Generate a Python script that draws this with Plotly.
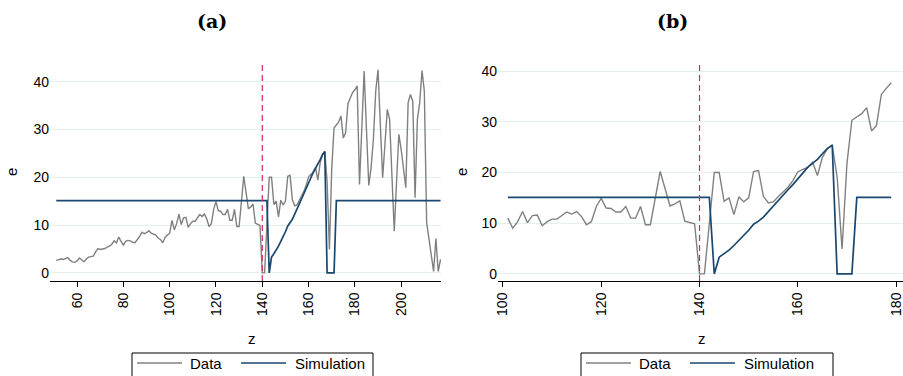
import plotly.graph_objects as go

# ---------------- data ----------------
z_start = 51
data_e = [
    2.6, 2.8, 2.9, 2.8, 3.0, 3.2, 2.6, 2.3, 2.2, 2.5,        # 51-60
    3.1, 2.7, 2.3, 2.9, 3.3, 3.4, 3.5, 4.4, 5.1, 4.9,        # 61-70
    5.0, 5.1, 5.4, 5.6, 6.0, 6.7, 6.3, 7.5, 6.6, 5.8,        # 71-80
    6.6, 6.8, 6.7, 6.4, 6.3, 6.9, 7.6, 8.5, 8.2, 8.4,        # 81-90
    8.8, 8.3, 8.1, 7.9, 7.3, 7.0, 6.3, 7.4, 7.9, 8.3,        # 91-100
    11.0, 9.0, 10.3, 12.3, 10.1, 11.5, 11.6, 9.5, 10.3, 10.8,  # 101-110
    10.8, 11.5, 12.2, 11.8, 12.3, 11.3, 9.7, 10.3, 13.3, 14.9,  # 111-120
    13.0, 12.9, 12.2, 12.2, 13.3, 11.0, 11.0, 13.3, 9.7, 9.7,   # 121-130
    15.0, 20.2, 16.8, 13.4, 13.8, 14.4, 10.4, 10.2, 9.9, 0.0,   # 131-140
    0.0, 10.0, 20.0, 20.0, 14.3, 15.0, 11.7, 15.2, 14.2, 15.0,  # 141-150
    20.2, 20.4, 15.3, 14.0, 14.2, 15.2, 16.1, 17.1, 18.4, 20.1, # 151-160
    20.6, 21.0, 22.0, 19.4, 23.0, 24.7, 25.4, 19.1, 4.9, 21.8,  # 161-170
    30.3, 31.0, 31.6, 32.8, 28.2, 29.3, 35.4, 36.6, 37.7, 38.3, # 171-180
    39.1, 18.5, 30.0, 42.2, 30.0, 18.3, 22.0, 28.0, 38.0, 42.5, # 181-190
    31.0, 19.9, 27.0, 34.2, 32.1, 20.0, 8.7, 19.0, 29.0, 25.8,  # 191-200
    21.8, 17.8, 35.6, 37.3, 35.9, 15.7, 32.1, 35.6, 42.3, 38.0, # 201-210
    10.5, 7.0, 3.5, 0.3, 7.2, 0.3, 2.8,                         # 211-217
]
sim_e = [
    15.1, 15.1, 15.1, 15.1, 15.1, 15.1, 15.1, 15.1, 15.1, 15.1,  # 51-60
    15.1, 15.1, 15.1, 15.1, 15.1, 15.1, 15.1, 15.1, 15.1, 15.1,  # 61-70
    15.1, 15.1, 15.1, 15.1, 15.1, 15.1, 15.1, 15.1, 15.1, 15.1,  # 71-80
    15.1, 15.1, 15.1, 15.1, 15.1, 15.1, 15.1, 15.1, 15.1, 15.1,  # 81-90
    15.1, 15.1, 15.1, 15.1, 15.1, 15.1, 15.1, 15.1, 15.1, 15.1,  # 91-100
    15.1, 15.1, 15.1, 15.1, 15.1, 15.1, 15.1, 15.1, 15.1, 15.1,  # 101-110
    15.1, 15.1, 15.1, 15.1, 15.1, 15.1, 15.1, 15.1, 15.1, 15.1,  # 111-120
    15.1, 15.1, 15.1, 15.1, 15.1, 15.1, 15.1, 15.1, 15.1, 15.1,  # 121-130
    15.1, 15.1, 15.1, 15.1, 15.1, 15.1, 15.1, 15.1, 15.1, 15.1,  # 131-140
    15.1, 15.1, 0.0, 3.3, 4.0, 4.7, 5.6, 6.6, 7.5, 8.6,          # 141-150
    9.8, 10.4, 11.2, 12.3, 13.5, 14.5, 15.5, 16.6, 17.6, 18.7,   # 151-160
    19.9, 21.0, 21.8, 22.6, 23.7, 24.7, 25.4, 0.0, 0.0, 0.0,     # 161-170
    0.0, 15.1, 15.1, 15.1, 15.1, 15.1, 15.1, 15.1, 15.1, 15.1,   # 171-180
    15.1, 15.1, 15.1, 15.1, 15.1, 15.1, 15.1, 15.1, 15.1, 15.1,  # 181-190
    15.1, 15.1, 15.1, 15.1, 15.1, 15.1, 15.1, 15.1, 15.1, 15.1,  # 191-200
    15.1, 15.1, 15.1, 15.1, 15.1, 15.1, 15.1, 15.1, 15.1, 15.1,  # 201-210
    15.1, 15.1, 15.1, 15.1, 15.1, 15.1, 15.1,                    # 211-217
]
z_all = list(range(z_start, z_start + len(data_e)))

# panel (b) window
zb_min, zb_max = 101, 179
idx_b = [i for i, z in enumerate(z_all) if zb_min <= z <= zb_max]
z_b = [z_all[i] for i in idx_b]
data_b = [data_e[i] for i in idx_b]
sim_b = [sim_e[i] for i in idx_b]

cutoff = 140
ticks_a = [60, 80, 100, 120, 140, 160, 180, 200]
ticks_b = [100, 120, 140, 160, 180]
ticks_y = [0, 10, 20, 30, 40]
series_names = ["Data", "Simulation"]

# ---------------- style ----------------
W, H = 903, 376
GRAY = "#808080"
NAVY = "#1a476f"
RED = "#d7265b"
GRID = "#e6eef0"
FONT = "Liberation Sans, Arial, sans-serif"
COLORS = [GRAY, NAVY]
WIDTHS = [1.4, 1.7]


def px(x):
    return x / W


def py(y):
    return 1 - y / H


fig = go.Figure()
for name, col, w, ya in zip(series_names, COLORS, WIDTHS, [data_e, sim_e]):
    fig.add_trace(go.Scatter(x=z_all, y=ya, mode="lines", name=name,
                             line=dict(color=col, width=w), xaxis="x", yaxis="y",
                             showlegend=False))
for name, col, w, yb in zip(series_names, COLORS, WIDTHS, [data_b, sim_b]):
    fig.add_trace(go.Scatter(x=z_b, y=yb, mode="lines", name=name,
                             line=dict(color=col, width=w), xaxis="x2", yaxis="y2",
                             showlegend=False))

xcommon = dict(showline=True, linecolor="black", linewidth=1, ticks="outside",
               ticklen=5, tickcolor="black", tickwidth=1, tickangle=-90,
               showgrid=False, zeroline=False, ticklabeloverflow="allow",
               tickfont=dict(family=FONT, size=14, color="black"))
ycommon = dict(showline=False, ticks="", showgrid=True, gridcolor=GRID,
               gridwidth=1, zeroline=False, tickvals=ticks_y,
               tickfont=dict(family=FONT, size=14, color="black"))

ydom = [py(281), py(63)]
fig.update_layout(
    width=W, height=H,
    margin=dict(l=0, r=0, t=0, b=0, autoexpand=False),
    paper_bgcolor="white", plot_bgcolor="white",
    font=dict(family=FONT, size=14, color="black"),
    xaxis=dict(domain=[px(50), px(441)], range=[48.3, 217.2], tickvals=ticks_a,
               anchor="y", **xcommon),
    yaxis=dict(domain=ydom, range=[-1.7, 43.9], anchor="x", **ycommon),
    xaxis2=dict(domain=[px(498), 1.0], range=[99.0, 181.4], tickvals=ticks_b,
                anchor="y2", **xcommon),
    yaxis2=dict(domain=ydom, range=[-1.4, 41.6], anchor="x2", **ycommon),
    showlegend=False,
)

# vertical cutoff lines
for xr, yr in (("x", "y domain"), ("x2", "y2 domain")):
    fig.add_shape(type="line", xref=xr, yref=yr, x0=cutoff, x1=cutoff, y0=0, y1=1,
                  line=dict(color=RED, width=1.2, dash="6px,4px"))

# legends (box partly cut by the bottom edge, as in the reference)
legend_boxes = [
    dict(left=132, right=373, samples=[(137, 182), (241, 286)], texts=[188, 293]),
    dict(left=581, right=833, samples=[(586, 631), (690, 735)], texts=[637, 742]),
]
LEG_Y = 363
for lb in legend_boxes:
    fig.add_shape(type="rect", xref="paper", yref="paper",
                  x0=px(lb["left"]), x1=px(lb["right"]), y0=py(353), y1=py(395),
                  line=dict(color="black", width=1), fillcolor="white", layer="above")
    for (s0, s1), tx, name, col, w in zip(lb["samples"], lb["texts"], series_names,
                                          COLORS, WIDTHS):
        fig.add_shape(type="line", xref="paper", yref="paper",
                      x0=px(s0), x1=px(s1), y0=py(LEG_Y), y1=py(LEG_Y),
                      line=dict(color=col, width=w), layer="above")
        fig.add_annotation(xref="paper", yref="paper", showarrow=False,
                           x=px(tx), y=py(LEG_Y), xanchor="left", yanchor="middle",
                           text=name, font=dict(family=FONT, size=15, color="black"))

# titles and axis labels
ann = [
    dict(text="<b>(a)</b>", x=px(212), y=py(21), font=dict(family="DejaVu Serif", size=19)),
    dict(text="<b>(b)</b>", x=px(672), y=py(21), font=dict(family="DejaVu Serif", size=19)),
    dict(text="z", x=px(252), y=py(338), font=dict(family=FONT, size=15)),
    dict(text="z", x=px(702), y=py(338), font=dict(family=FONT, size=15)),
    dict(text="e", x=px(12), y=py(172), textangle=-90, font=dict(family=FONT, size=15)),
    dict(text="e", x=px(462), y=py(172), textangle=-90, font=dict(family=FONT, size=15)),
]
for a in ann:
    fig.add_annotation(xref="paper", yref="paper", showarrow=False,
                       xanchor="center", yanchor="middle", **a)

fig.write_html("out.html")
